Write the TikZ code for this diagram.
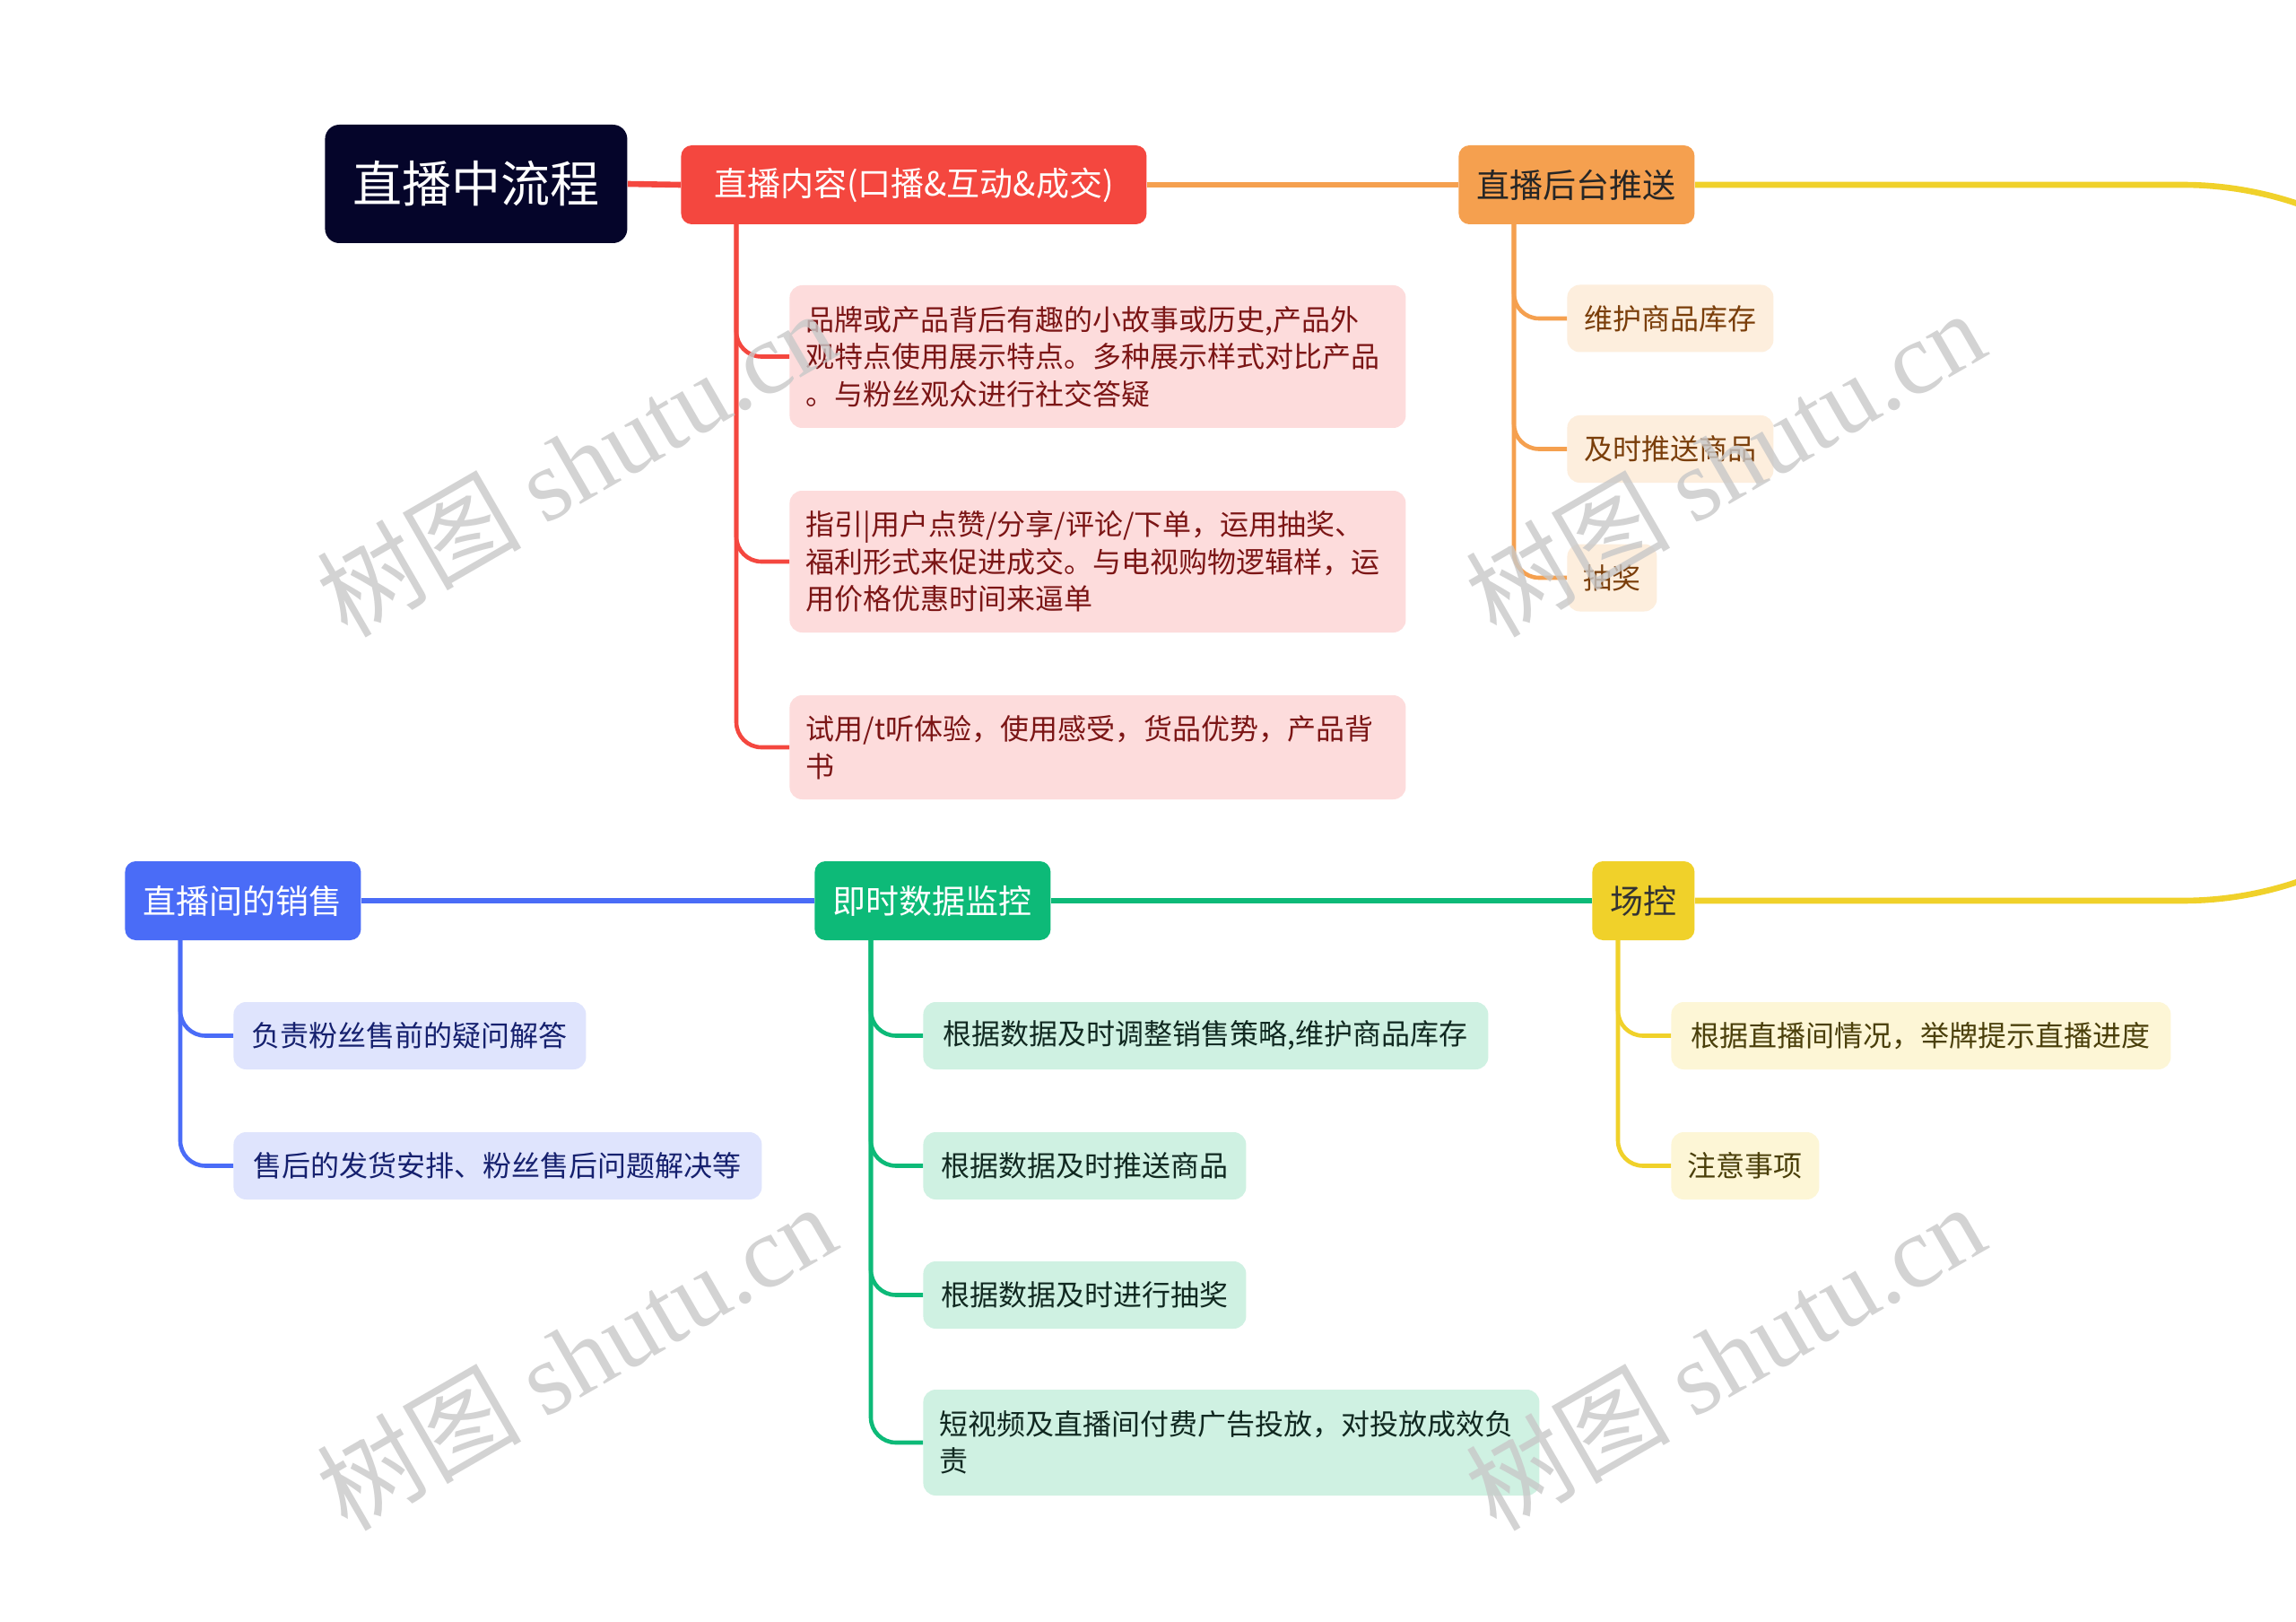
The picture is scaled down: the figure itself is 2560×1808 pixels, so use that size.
\documentclass[tikz,border=0pt]{standalone}
\usepackage{fontspec}
\newfontfamily\cjk{Noto Sans CJK SC}
\newfontfamily\wmfont{Liberation Serif}
\definecolor{rootc}{HTML}{05052A}
\definecolor{redc}{HTML}{F4473F}
\definecolor{orangec}{HTML}{F5A04F}
\definecolor{yellowc}{HTML}{F0D12A}
\definecolor{greenc}{HTML}{0DBA78}
\definecolor{bluec}{HTML}{4A6CF7}
\definecolor{redf}{HTML}{FDDCDC}
\definecolor{redt}{HTML}{7B1515}
\definecolor{orangef}{HTML}{FDEEDD}
\definecolor{oranget}{HTML}{7A3E0A}
\definecolor{bluef}{HTML}{DFE4FD}
\definecolor{bluet}{HTML}{15206E}
\definecolor{greenf}{HTML}{CFF1E2}
\definecolor{greent}{HTML}{102820}
\definecolor{yellowf}{HTML}{FDF6D6}
\definecolor{yellowt}{HTML}{4A3F0A}
\definecolor{wmc}{HTML}{C8C8C8}
\begin{document}
\begin{tikzpicture}[x=0.5pt,y=-0.5pt,
  boxbase/.style={anchor=west, inner sep=0pt, rounded corners=7pt},
  rootbox/.style={boxbase, fill=rootc, text=white, minimum width=168.5pt, minimum height=66pt, rounded corners=8pt, font=\cjk\fontsize{27.5}{33}\selectfont},
  titlebox/.style={boxbase, minimum height=44pt, rounded corners=6pt, font=\cjk\fontsize{18.5}{22}\selectfont},
  leafbox/.style={boxbase, minimum height=37.5pt, font=\cjk\fontsize{16}{20.75}\selectfont},
  longleaf/.style={leafbox, text width=325.5pt, inner xsep=9pt, align=left},
  mainline/.style={line width=3.3pt},
  branchline/.style={line width=2.3pt, rounded corners=14pt},
  wmark/.style={rotate=30, text=wmc, opacity=0.8, font=\fontsize{57}{57}\selectfont}
]
\path[use as bounding box] (0,0) rectangle (2560,1808);
\clip (0,0) rectangle (2560,1808);
\fill[white] (0,0) rectangle (2560,1808);

% ---- top row
\node[rootbox] (root) at (362,205) {直播中流程};
\node[titlebox, fill=redc, text=white, minimum width=259.5pt] (R) at (759,206) {直播内容(口播\&互动\&成交)};
\node[titlebox, fill=orangec, text=black!85, minimum width=131.5pt] (O) at (1626,206) {直播后台推送};

% red leaves
\node[longleaf, fill=redf, text=redt, minimum height=79.5pt] (c1) at (880,397.5)
  {品牌或产品背后有趣的小故事或历史,产品外\\观特点使用展示特点。多种展示样式对比产品\\。与粉丝观众进行社交答疑};
\node[longleaf, fill=redf, text=redt, minimum height=79pt] (c2) at (880,626)
  {指引|用户点赞/分享/评论/下单，运用抽奖、\\福利形式来促进成交。与电视购物逻辑样，运\\用价格优惠时间来逼单};
\node[longleaf, fill=redf, text=redt, minimum height=58pt] (c3) at (880,833)
  {试用/t听体验，使用感受，货品优势，产品背\\书};

% orange leaves
\node[leafbox, fill=orangef, text=oranget, minimum width=115pt] (o1) at (1747,355) {维护商品库存};
\node[leafbox, fill=orangef, text=oranget, minimum width=115pt] (o2) at (1747,500.5) {及时推送商品};
\node[leafbox, fill=orangef, text=oranget, minimum width=50pt] (o3) at (1747,644) {抽奖};

% ---- bottom row
\node[titlebox, fill=bluec, text=white, minimum width=131.5pt] (B) at (139,1004) {直播间的销售};
\node[titlebox, fill=greenc, text=white, minimum width=131.5pt] (G) at (908,1004) {即时数据监控};
\node[titlebox, fill=yellowc, text=black!80, minimum width=57pt] (Y) at (1775,1004) {场控};

\node[leafbox, fill=bluef, text=bluet, minimum width=196.5pt] (b1) at (260,1154.5) {负责粉丝售前的疑问解答};
\node[leafbox, fill=bluef, text=bluet, minimum width=294.5pt] (b2) at (260,1299.5) {售后的发货安排、粉丝售后问题解决等};

\node[leafbox, fill=greenf, text=greent, minimum width=315pt] (g1) at (1029,1154.5) {根据数据及时调整销售策略,维护商品库存};
\node[leafbox, fill=greenf, text=greent, minimum width=180pt] (g2) at (1029,1299.5) {根据数据及时推送商品};
\node[leafbox, fill=greenf, text=greent, minimum width=180pt] (g3) at (1029,1443.5) {根据数据及时进行抽奖};
\node[longleaf, fill=greenf, text=greent, minimum height=59pt] (g4) at (1029,1608)
  {短视频及直播间付费广告投放，对投放成效负\\责};

\node[leafbox, fill=yellowf, text=yellowt, minimum width=278.5pt] (y1) at (1863,1154.5) {根据直播间情况，举牌提示直播进度};
\node[leafbox, fill=yellowf, text=yellowt, minimum width=82.5pt] (y2) at (1863,1299.5) {注意事项};

% ---- main connectors
\draw[mainline, redc] (root.east) -- (R.west);
\draw[mainline, orangec] (R.east) -- (O.west);
\coordinate (w1) at (2433,206);
\coordinate (w2) at (2433,1004);
\draw[mainline, yellowc] (O.east) -- (w1) .. controls (2654,206) and (2833,384) .. (2833,605)
   .. controls (2833,826) and (2654,1004) .. (w2) -- (Y.east);
\draw[mainline, greenc] (Y.west) -- (G.east);
\draw[mainline, bluec] (G.west) -- (B.east);

% ---- branch connectors
\coordinate (Rb) at (821,250);
\coordinate (Ob) at (1688,250);
\coordinate (Bb) at (201,1048);
\coordinate (Gb) at (971,1048);
\coordinate (Yb) at (1804,1048);
\foreach \n in {c1,c2,c3} \draw[branchline, redc] (Rb) |- (\n.west);
\foreach \n in {o1,o2,o3} \draw[branchline, orangec] (Ob) |- (\n.west);
\foreach \n in {b1,b2} \draw[branchline, bluec] (Bb) |- (\n.west);
\foreach \n in {g1,g2,g3,g4} \draw[branchline, greenc] (Gb) |- (\n.west);
\foreach \n in {y1,y2} \draw[branchline, yellowc] (Yb) |- (\n.west);

% ---- watermarks
\node[wmark] (wm1) at (642,516) {\cjk 树图\ \wmfont shutu.cn};
\node[wmark] (wm2) at (1923,516) {\cjk 树图\ \wmfont shutu.cn};
\node[wmark] (wm3) at (642,1512) {\cjk 树图\ \wmfont shutu.cn};
\node[wmark] (wm4) at (1923,1512) {\cjk 树图\ \wmfont shutu.cn};
\end{tikzpicture}
\end{document}
